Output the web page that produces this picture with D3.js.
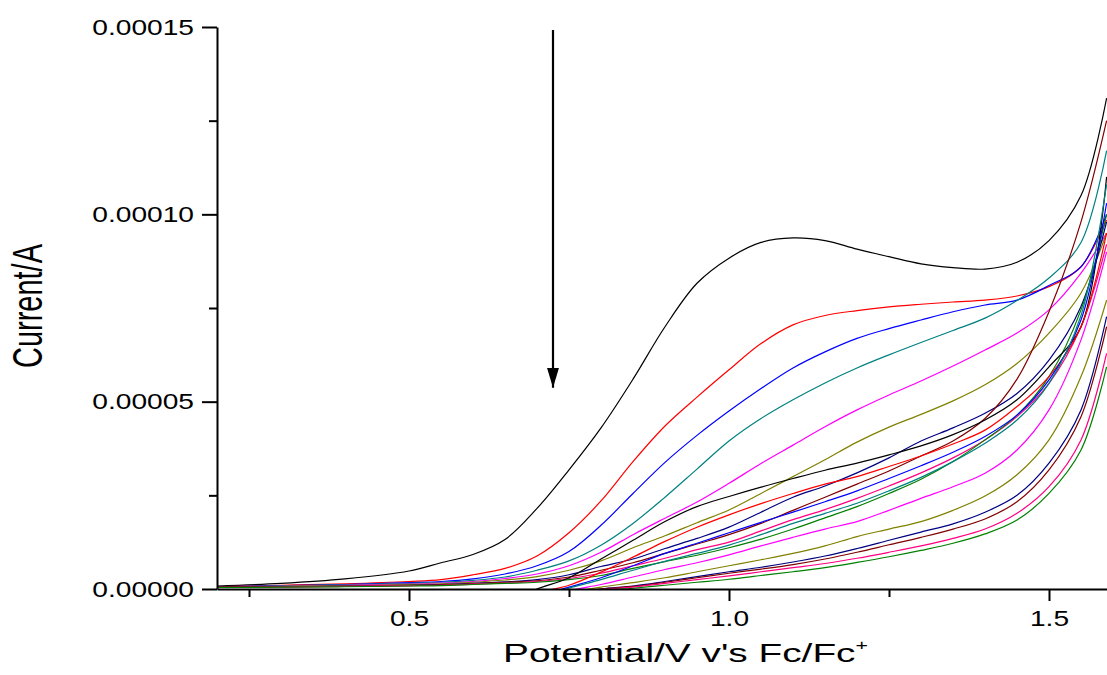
<!DOCTYPE html>
<html>
<head>
<meta charset="utf-8">
<script src="https://cdn.jsdelivr.net/npm/d3@7"></script>
<style>
  body { margin: 0; background: #fff; }
  svg { display: block; font-family: 'Liberation Sans', Arial, sans-serif; }
</style>
</head>
<body>
<div id="chart"></div>
<script>
// potential grid (V vs Fc/Fc+) shared by all scans
var potential = [0.2, 0.3, 0.4, 0.5, 0.55, 0.6, 0.65, 0.7, 0.75, 0.8, 0.85, 0.9, 0.95, 1.0,
                 1.05, 1.1, 1.15, 1.2, 1.25, 1.3, 1.35, 1.4, 1.45, 1.5, 1.55, 1.59]

// current of each scan, in units of 1e-5 A (null = not drawn)
var n = null
var scan1  = [0.08, 0.15, 0.27, 0.48, 0.70, 0.92, 1.32, 2.15, 3.18, 4.3, 5.6, 7.0, 8.16, 8.83, 9.25, 9.37, 9.3, 9.07, 8.87, 8.68, 8.58, 8.54, 8.72, 9.3, 10.5, 13.1]
var scan2  = [0.06, 0.1, 0.14, 0.2, 0.25, 0.38, 0.55, 0.88, 1.5, 2.35, 3.4, 4.35, 5.12, 5.85, 6.55, 7.05, 7.3, 7.43, 7.53, 7.6, 7.66, 7.71, 7.82, 8.07, 8.6, 9.85]
var scan3  = [0.06, 0.09, 0.12, 0.17, 0.2, 0.27, 0.4, 0.62, 1.0, 1.7, 2.55, 3.38, 4.1, 4.75, 5.35, 5.9, 6.33, 6.69, 6.95, 7.18, 7.4, 7.58, 7.71, 8.1, 8.6, 10.0]
var scan4  = [0.05, 0.08, 0.11, 0.15, 0.18, 0.23, 0.32, 0.5, 0.75, 1.17, 1.75, 2.45, 3.2, 3.95, 4.55, 5.05, 5.5, 5.9, 6.25, 6.58, 6.9, 7.23, 7.7, 8.3, 9.25, 11.7]
var scan5  = [0.05, 0.07, 0.1, 0.13, 0.16, 0.2, 0.28, 0.4, 0.62, 0.98, 1.45, 1.89, 2.32, 2.82, 3.35, 3.84, 4.33, 4.78, 5.18, 5.55, 5.95, 6.38, 6.83, 7.45, 8.43, 9.5]
var scan6  = [0.05, 0.07, 0.09, 0.12, 0.14, 0.18, 0.24, 0.33, 0.5, 0.75, 1.1, 1.42, 1.77, 2.11, 2.55, 3.0, 3.45, 3.92, 4.32, 4.66, 5.02, 5.45, 6.02, 6.83, 7.9, 9.5]
var scan7  = [0.05, 0.06, 0.08, 0.1, 0.12, 0.15, 0.19, 0.25, 0.38, 0.6, 0.8, 1.08, 1.35, 1.65, 2.05, 2.45, 2.75, 3.1, 3.5, 3.95, 4.3, 4.69, 5.22, 6.11, 7.54, 9.8]
var scan8  = [0.05, 0.06, 0.07, 0.09, 0.11, 0.14, 0.18, 0.22, 0.32, 0.5, 0.7, 0.95, 1.2, 1.45, 1.75, 2.1, 2.45, 2.8, 3.15, 3.55, 3.95, 4.55, 5.6, 7.4, 9.8, 12.5]
var scan9  = [0.04, 0.05, 0.07, 0.09, 0.1, 0.13, 0.16, 0.2, 0.28, 0.42, 0.62, 0.82, 1.05, 1.25, 1.55, 1.85, 2.12, 2.42, 2.75, 3.1, 3.5, 3.98, 4.6, 5.49, 7.0, 9.2]
var scan10 = [0.04, 0.05, 0.06, 0.08, 0.09, 0.12, 0.15, 0.18, 0.25, 0.36, 0.55, 0.73, 0.9, 1.1, 1.33, 1.6, 1.9, 2.2, 2.55, 2.93, 3.4, 3.98, 4.64, 5.67, 7.45, 10.0]
var scan11 = [n, n, n, n, n, n, -0.35, 0.0, 0.3, 0.8, 1.3, 1.8, 2.2, 2.47, 2.72, 2.95, 3.17, 3.36, 3.58, 3.82, 4.12, 4.51, 5.05, 5.93, 7.0, 11.0]
var scan12 = [n, n, n, n, n, n, -0.5, -0.12, 0.1, 0.45, 0.85, 1.27, 1.65, 1.98, 2.28, 2.55, 2.8, 3.0, 3.27, 3.55, 3.87, 4.24, 4.87, 5.67, 7.0, 9.5]
var scan13 = [n, n, n, n, n, n, -0.5, -0.2, 0.05, 0.3, 0.62, 0.95, 1.22, 1.5, 1.78, 2.05, 2.33, 2.62, 2.95, 3.29, 3.65, 4.07, 4.64, 5.58, 7.18, 10.3]
var scan14 = [n, n, n, n, n, n, -0.55, -0.25, 0.02, 0.25, 0.5, 0.74, 0.95, 1.17, 1.45, 1.75, 2.02, 2.29, 2.62, 2.98, 3.4, 3.89, 4.51, 5.49, 7.3, 10.8]
var scan15 = [n, n, n, n, n, n, -0.6, -0.3, -0.05, 0.12, 0.32, 0.52, 0.7, 0.91, 1.15, 1.38, 1.6, 1.8, 2.1, 2.42, 2.73, 3.09, 3.71, 4.78, 6.65, 9.0]
var scan16 = [n, n, n, n, n, n, n, -0.3, -0.1, 0.05, 0.17, 0.3, 0.46, 0.62, 0.78, 0.95, 1.15, 1.4, 1.6, 1.8, 2.1, 2.48, 3.05, 3.98, 5.67, 7.71]
var scan17 = [n, n, n, n, n, n, n, n, -0.15, 0.0, 0.08, 0.2, 0.33, 0.46, 0.58, 0.72, 0.88, 1.08, 1.3, 1.52, 1.74, 2.05, 2.5, 3.36, 4.78, 7.27]
var scan18 = [n, n, n, n, n, n, n, n, -0.15, 0.0, 0.07, 0.18, 0.3, 0.42, 0.53, 0.65, 0.8, 0.98, 1.18, 1.38, 1.6, 1.87, 2.33, 3.18, 4.6, 7.0]
var scan19 = [n, n, n, n, n, n, n, n, -0.15, -0.02, 0.05, 0.15, 0.25, 0.35, 0.46, 0.57, 0.68, 0.82, 0.98, 1.15, 1.35, 1.6, 2.02, 2.73, 3.98, 6.29]
var scan20 = [n, n, n, n, n, n, n, n, -0.2, -0.05, 0.02, 0.1, 0.18, 0.26, 0.36, 0.46, 0.57, 0.71, 0.86, 1.03, 1.22, 1.47, 1.84, 2.55, 3.71, 5.93]

var scans = [scan1, scan2, scan3, scan4, scan5, scan6, scan7, scan8, scan9, scan10,
             scan11, scan12, scan13, scan14, scan15, scan16, scan17, scan18, scan19, scan20]
var scanColors = ['#000000', '#ff0000', '#0000ff', '#008080', '#ff00ff', '#808000', '#000080', '#800000', '#ff0080', '#008000']

var xTicks = [0.5, 1.0, 1.5]
var xMinorTicks = [0.25, 0.75, 1.25]
var yTicks = [0, 0.00005, 0.0001, 0.00015]
var yMinorTicks = [0.000025, 0.000075, 0.000125]

// arrow showing the decrease with successive scans
var arrowPotential = 0.725
var arrowCurrent = [14.92e-5, 5.37e-5]

var width = 1107, height = 675
var margin = { top: 27, left: 217 }
var plotW = 896, plotH = 562

var svg = d3.select('#chart').append('svg')
    .attr('width', width)
    .attr('height', height)

svg.append('defs').append('clipPath')
    .attr('id', 'plot-clip')
  .append('rect')
    .attr('x', 0).attr('y', -margin.top)
    .attr('width', plotW).attr('height', plotH + margin.top)

svg.select('defs').append('marker')
    .attr('id', 'arrow-head')
    .attr('markerUnits', 'userSpaceOnUse')
    .attr('markerWidth', 20).attr('markerHeight', 12)
    .attr('refX', 20).attr('refY', 6)
    .attr('orient', 'auto')
  .append('path')
    .attr('d', 'M0,0L20,6L0,12Z')
    .attr('fill', '#000')

var g = svg.append('g')
    .attr('transform', 'translate(' + margin.left + ',' + margin.top + ')')

var x = d3.scaleLinear().domain([0.2, 1.6]).range([0, plotW])
var y = d3.scaleLinear().domain([0, 0.00015]).range([plotH, 0])

var line = d3.line()
    .defined(function(d) { return d[1] != null })
    .x(function(d) { return x(d[0]) })
    .y(function(d) { return y(d[1] * 1e-5) })
    .curve(d3.curveCatmullRom.alpha(0.5))

// scans
g.append('g')
    .attr('clip-path', 'url(#plot-clip)')
  .selectAll('path')
  .data(scans)
  .enter()
  .append('path')
    .attr('d', function(s) { return line(potential.map(function(p, i) { return [p, s[i]] })) })
    .attr('fill', 'none')
    .attr('stroke', function(s, i) { return scanColors[i % scanColors.length] })
    .attr('stroke-width', 1.2)

// arrow
g.append('line')
    .attr('x1', x(arrowPotential)).attr('x2', x(arrowPotential))
    .attr('y1', y(arrowCurrent[0])).attr('y2', y(arrowCurrent[1]))
    .attr('stroke', '#000')
    .attr('stroke-width', 2.2)
    .attr('marker-end', 'url(#arrow-head)')

var tickScale = 1.28

// x axis
var xAxisG = g.append('g')
    .attr('transform', 'translate(0,' + plotH + ')')
    .call(d3.axisBottom(x)
      .tickValues(xTicks)
      .tickSize(12)
      .tickSizeOuter(0)
      .tickFormat(d3.format('.1f')))
xAxisG.selectAll('text')
    .attr('y', 37).attr('dy', 0)
    .attr('transform', 'scale(' + tickScale + ',1)')
g.append('g')
    .attr('transform', 'translate(0,' + plotH + ')')
    .call(d3.axisBottom(x).tickValues(xMinorTicks).tickSize(8).tickFormat(''))
    .select('.domain').remove()

// y axis
var yAxisG = g.append('g')
    .call(d3.axisLeft(y)
      .tickValues(yTicks)
      .tickSize(15)
      .tickPadding(8)
      .tickSizeOuter(0)
      .tickFormat(d3.format('.5f')))
yAxisG.selectAll('text')
    .attr('x', -23 / tickScale)
    .attr('transform', 'scale(' + tickScale + ',1)')
g.append('g')
    .call(d3.axisLeft(y).tickValues(yMinorTicks).tickSize(8).tickFormat(''))
    .select('.domain').remove()

g.selectAll('.tick text')
    .attr('font-size', 22)
    .attr('font-family', "'Liberation Sans', Arial, sans-serif")
    .attr('fill', '#000')
g.selectAll('.domain, .tick line')
    .attr('stroke', '#000')
    .attr('stroke-width', 2)

// axis titles
var xTitle = svg.append('text')
    .attr('text-anchor', 'middle')
    .attr('font-size', 25.5)
    .attr('fill', '#000')
xTitle.append('tspan').text("Potential/V v's Fc/Fc")
xTitle.append('tspan').text('+')
    .attr('font-size', 14)
    .attr('dy', -12)
var xw = xTitle.node().getComputedTextLength()
xTitle.attr('transform', 'translate(685.5,661.7) scale(' + (365 / xw) + ',1)')

var yTitle = svg.append('text')
    .attr('text-anchor', 'middle')
    .attr('font-size', 29)
    .attr('fill', '#000')
    .text('Current/A')
var yw = yTitle.node().getComputedTextLength()
yTitle.attr('transform', 'translate(41.7,306) rotate(-90) scale(' + (124 / yw) + ',1.44)')
</script>
</body>
</html>
